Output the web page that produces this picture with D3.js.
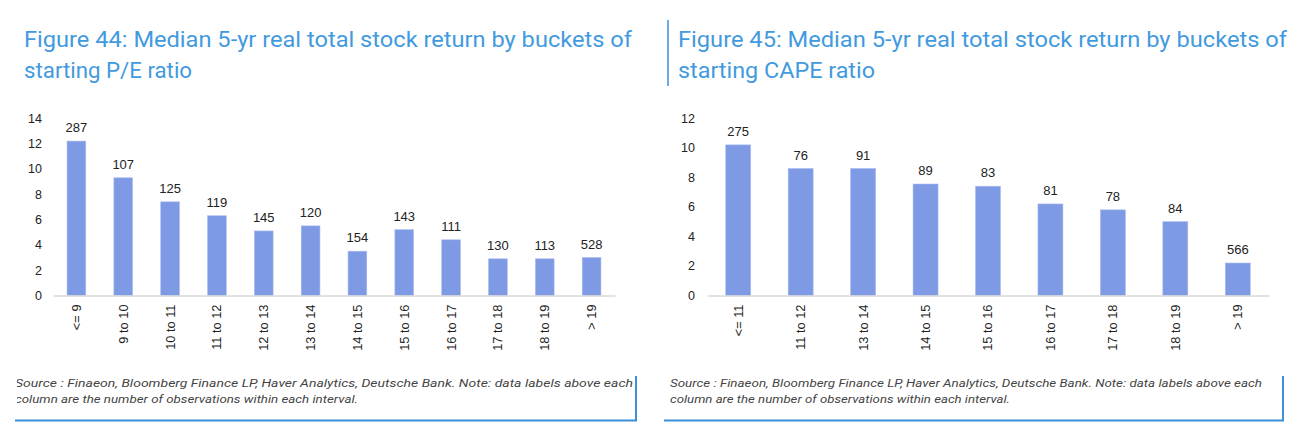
<!DOCTYPE html>
<html><head><meta charset="utf-8">
<script src="https://cdn.jsdelivr.net/npm/d3@7"></script>
<style>body{margin:0;background:#fff}svg{display:block}</style>
</head><body>
<script>
// Data
const peCategories = ["<= 9","9 to 10","10 to 11","11 to 12","12 to 13","13 to 14","14 to 15","15 to 16","16 to 17","17 to 18","18 to 19","> 19"];
const peValues = [12.2, 9.3, 7.4, 6.3, 5.1, 5.5, 3.5, 5.2, 4.4, 2.9, 2.9, 3.0];
const peCounts = [287,107,125,119,145,120,154,143,111,130,113,528];
const peTicks = [0,2,4,6,8,10,12,14];

const capeCategories = ["<= 11","11 to 12","13 to 14","14 to 15","15 to 16","16 to 17","17 to 18","18 to 19","> 19"];
const capeValues = [10.2, 8.6, 8.6, 7.55, 7.4, 6.2, 5.8, 5.0, 2.2];
const capeCounts = [275,76,91,89,83,81,78,84,566];
const capeTicks = [0,2,4,6,8,10,12];

const titles = [
  ["Figure 44: Median 5-yr real total stock return by buckets of","starting P/E ratio"],
  ["Figure 45: Median 5-yr real total stock return by buckets of","starting CAPE ratio"]
];
const sourceLines = ["Source : Finaeon, Bloomberg Finance LP, Haver Analytics, Deutsche Bank. Note: data labels above each",
  "column are the number of observations within each interval."];

const W = 1306, H = 434;
const svg = d3.select("body").append("svg").attr("width", W).attr("height", H);
const defs = svg.append("defs");
defs.append("clipPath").attr("id","clipL").append("rect").attr("x",17).attr("y",360).attr("width",620).attr("height",60);

const BAR = "#7e9ae4", TITLE = "#429ade", FRAME = "#3b8fdb";

function panel(cfg){
  const g = svg.append("g");
  cfg.title.forEach((t,i)=>{
    g.append("text").attr("x",cfg.titleX).attr("y",47+i*31)
      .attr("fill",TITLE).attr("font-family","Roboto, 'Liberation Sans', sans-serif")
      .attr("font-size",21.5).text(t)
      .attr("textLength",i===0?cfg.titleW:cfg.titleW2).attr("lengthAdjust","spacingAndGlyphs");
  });
  const x = d3.scaleBand().domain(cfg.cats).range([cfg.x0,cfg.x1]).paddingInner(0.6).paddingOuter(0.3);
  const y = d3.scaleLinear().domain([0,cfg.ymax]).range([295.5,118.3]);
  const ya = d3.axisLeft(y).tickValues(cfg.ticks).tickSize(0).tickPadding(0);
  const yg = g.append("g").attr("transform",`translate(${cfg.yLabX},0)`).call(ya);
  yg.select(".domain").remove();
  yg.selectAll("text").attr("font-family","'Liberation Sans', Arial, sans-serif").attr("font-size",12.5).attr("fill","#222");
  g.selectAll("rect.bar").data(cfg.vals).join("rect").attr("class","bar")
    .attr("x",(d,i)=>x(cfg.cats[i])).attr("width",x.bandwidth())
    .attr("y",d=>y(d)).attr("height",d=>y(0)-y(d)).attr("fill",BAR)
    .attr("stroke","#a9bcf0").attr("stroke-width",0.6);
  g.selectAll("text.lab").data(cfg.vals).join("text").attr("class","lab")
    .attr("x",(d,i)=>x(cfg.cats[i])+x.bandwidth()/2).attr("y",d=>y(d)-9)
    .attr("text-anchor","middle").attr("font-family","'Liberation Sans', Arial, sans-serif")
    .attr("font-size",13).attr("fill","#222").text((d,i)=>cfg.counts[i]);
  const xa = d3.axisBottom(x).tickSize(0).tickPadding(0);
  const xg = g.append("g").attr("transform",`translate(0,${y(0)})`).call(xa);
  xg.select(".domain").attr("stroke","#d9d9d9").attr("stroke-width",1.5);
  xg.selectAll("text").attr("font-family","'Liberation Sans', Arial, sans-serif").attr("font-size",12.8).attr("fill","#222")
    .attr("transform","rotate(-90)").attr("text-anchor","end").attr("dy","0.35em").attr("x",-9).attr("y",0);
  const sg = g.append("g");
  if(cfg.clip) sg.attr("clip-path","url(#clipL)");
  sourceLines.forEach((s,i)=>{
    sg.append("text").attr("x",cfg.srcX).attr("y",387+i*16).attr("font-family","Roboto, 'Liberation Sans', sans-serif")
      .attr("font-style","italic").attr("font-size",11).attr("fill","#444").text(s)
      .attr("textLength",i===0?cfg.srcW:cfg.srcW2).attr("lengthAdjust","spacingAndGlyphs");
  });
  g.append("path").attr("d",`M${cfg.frameL},420.5 H${cfg.frameR} V376`).attr("fill","none").attr("stroke",FRAME).attr("stroke-width",2);
}

panel({title:titles[0],titleX:24,titleW:608,titleW2:168,cats:peCategories,vals:peValues,counts:peCounts,ticks:peTicks,ymax:14,
  x0:53,x1:615,yLabX:42,srcX:15,srcW:618,srcW2:343,clip:true,frameL:15,frameR:636});
panel({title:titles[1],titleX:678,titleW:609,titleW2:197,cats:capeCategories,vals:capeValues,counts:capeCounts,ticks:capeTicks,ymax:12,
  x0:707,x1:1269,yLabX:695,srcX:670,srcW:592,srcW2:340,clip:false,frameL:664,frameR:1283});
svg.append("line").attr("x1",668).attr("x2",668).attr("y1",20).attr("y2",86).attr("stroke",FRAME).attr("stroke-width",1.5);
</script>
</body></html>
